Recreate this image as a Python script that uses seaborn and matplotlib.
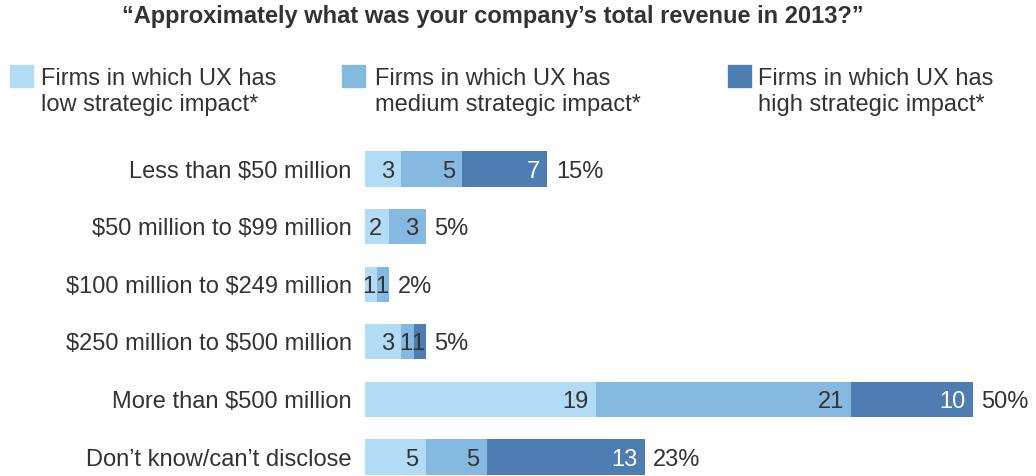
import matplotlib
matplotlib.use("Agg")
import matplotlib.pyplot as plt
from matplotlib.patches import Rectangle
import numpy as np
import pandas as pd
import seaborn as sns

# Survey answers: share of respondents (%) per revenue band, split by UX impact
categories = [
    "Less than $50 million",
    "$50 million to $99 million",
    "$100 million to $249 million",
    "$250 million to $500 million",
    "More than $500 million",
    "Don\u2019t know/can\u2019t disclose",
]
low_impact = [3, 2, 1, 3, 19, 5]
medium_impact = [5, 3, 1, 1, 21, 5]
high_impact = [7, 0, 0, 1, 10, 13]

series_names = [
    "Firms in which UX has\nlow strategic impact*",
    "Firms in which UX has\nmedium strategic impact*",
    "Firms in which UX has\nhigh strategic impact*",
]
colors = ["#b2dcf5", "#86b9e0", "#4e7db3"]
text_color = "#333333"
title = "\u201cApproximately what was your company\u2019s total revenue in 2013?\u201d"

sns.set_theme(style="white")
plt.rcParams["font.family"] = ["Liberation Sans", "DejaVu Sans"]
plt.rcParams["text.parse_math"] = False

FS = 17
W, H = 1036, 476
fig = plt.figure(figsize=(W / 100, H / 100), dpi=100)

# axes placed so that 0..50 spans the bar area
ax_left, ax_right = 365, 973
row0, step = 169.0, 57.6
ylo, yhi = 5.35, -0.5
ax_top = row0 + yhi * step
ax_bot = row0 + ylo * step
ax = fig.add_axes([ax_left / W, 1 - ax_bot / H, (ax_right - ax_left) / W, (ax_bot - ax_top) / H])

df = pd.DataFrame({
    "category": categories,
    "low": low_impact,
    "medium": medium_impact,
    "high": high_impact,
})
df["c1"] = df["low"]
df["c2"] = df["low"] + df["medium"]
df["c3"] = df["c2"] + df["high"]

# stacked bars: draw the cumulative totals from longest to shortest
for col, color in zip(["c3", "c2", "c1"], colors[::-1]):
    sns.barplot(data=df, x=col, y="category", order=categories, orient="h",
                color=color, width=0.61, saturation=1, ax=ax, linewidth=0)

ax.set_xlim(0, 50)
ax.set_ylim(ylo, yhi)
ax.set_xlabel("")
ax.set_ylabel("")
ax.set_xticks([])
sns.despine(ax=ax, left=True, bottom=True)
ax.tick_params(axis="y", length=0, pad=9.5, labelsize=FS, labelcolor=text_color)

# segment values and row totals
pad = 0.6
for i, row in df.iterrows():
    starts = [0, row["c1"], row["c2"]]
    vals = [row["low"], row["medium"], row["high"]]
    for k, (s, v) in enumerate(zip(starts, vals)):
        if v == 0:
            continue
        if v <= 1:
            # too narrow for padding: centre the digit, keep it dark
            ax.text(s + v / 2 - 0.15, i, f"{v}", ha="center", va="center_baseline",
                    fontsize=FS, color=text_color)
        else:
            tc = "white" if k == 2 else text_color
            ax.text(s + v - pad, i, f"{v}", ha="right", va="center_baseline",
                    fontsize=FS, color=tc)
    total = row["c3"]
    ax.text(total + 0.7, i, f"{total}%", ha="left", va="center_baseline",
            fontsize=FS, color=text_color, clip_on=False)

# title
fig.text(493 / W, 1 - 17 / H, title, ha="center", va="center",
         fontsize=17, fontweight="bold", color=text_color)

# legend: swatch plus two-line label per series
legend_x = [10, 342, 728]
text_x = [41, 375, 758]
for lx, tx, name, color in zip(legend_x, text_x, series_names, colors):
    fig.patches.append(Rectangle((lx / W, 1 - 87 / H), 23 / W, 22 / H,
                                 transform=fig.transFigure, color=color))
    fig.text(tx / W, 1 - 68 / H, name, ha="left", va="top", fontsize=FS,
             color=text_color, linespacing=1.22)

fig.savefig("out.png", dpi=100)
